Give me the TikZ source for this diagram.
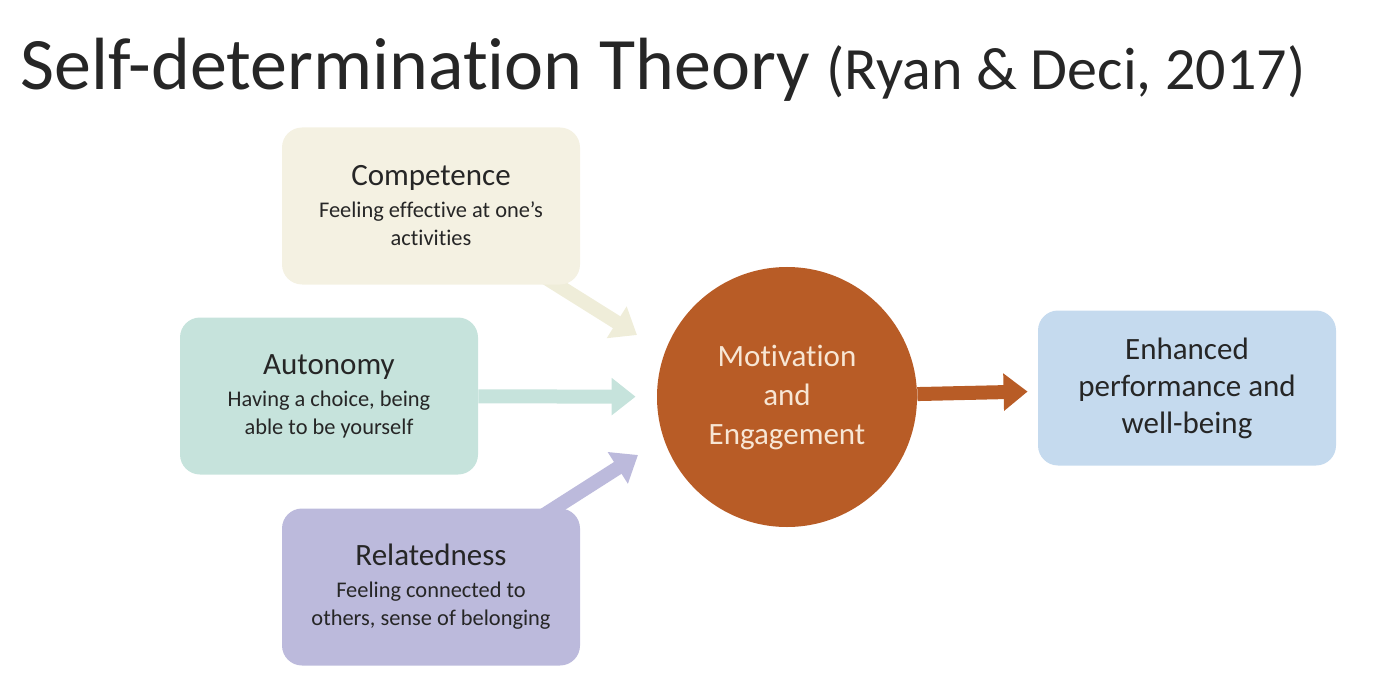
\documentclass[tikz,border=0pt]{standalone}
\usepackage{fontspec}
\setmainfont{Carlito}[Ligatures=NoCommon]
\usetikzlibrary{arrows.meta,backgrounds}

\definecolor{textdark}{HTML}{262626}
\definecolor{compfill}{HTML}{F4F1E2}
\definecolor{comparrow}{HTML}{EFEDD9}
\definecolor{autofill}{HTML}{C6E3DC}
\definecolor{relatfill}{HTML}{BCBADC}
\definecolor{motivfill}{HTML}{B85C26}
\definecolor{motivtext}{HTML}{F7E6D4}
\definecolor{enhfill}{HTML}{C5DAEE}

\tikzset{
	box/.style={rounded corners=10pt, minimum width=149pt, minimum height=78.5pt,
		inner sep=0pt, align=center, text=textdark,
		font=\fontsize{11.2}{14}\selectfont},
	fat/.style={line width=7pt, -{Triangle[length=12pt,width=18pt]}},
}
\newcommand{\boxhead}[1]{{\fontsize{15.5}{16}\selectfont #1}}

\begin{document}
\begin{tikzpicture}[x=0.5pt,y=-0.5pt]
	\useasboundingbox (0,0) rectangle (1386,700);

	\node[anchor=base west, inner sep=0pt, text=textdark, font=\fontsize{37}{42}\selectfont] (title) at (20,90)
		{Self-determination Theory \fontsize{30}{34}\selectfont(Ryan \& Deci, 2017)};

	\node[box, fill=compfill] (comp) at (431,206)
		{\boxhead{Competence}\\[2pt] Feeling effective at one’s\\ activities};
	\node[box, fill=autofill] (auto) at (329,396)
		{\boxhead{Autonomy}\\[2pt] Having a choice, being\\ able to be yourself};
	\node[box, fill=relatfill] (relat) at (431,587)
		{\boxhead{Relatedness}\\[2pt] Feeling connected to\\ others, sense of belonging};
	\node[circle, fill=motivfill, minimum size=130pt, inner sep=0pt, align=center,
		text=motivtext, font=\fontsize{15.5}{19.5}\selectfont] (motiv) at (787,397)
		{Motivation\\ and\\ Engagement};
	\node[box, fill=enhfill, minimum height=77.5pt, font=\fontsize{15.5}{18.5}\selectfont] (enh) at (1187,388)
		{Enhanced\\ performance and\\ well-being};

	\coordinate (ctip) at (637,335);
	\coordinate (rtip) at (638,455);

	\begin{scope}[on background layer]
		\draw[fat, draw=comparrow] (comp.center) -- (ctip);
		\draw[fat, draw=relatfill] (relat.center) -- (rtip);
	\end{scope}

	\draw
		(auto) edge[fat, draw=autofill, shorten >=10.5pt] (motiv)
		(motiv) edge[fat, draw=motivfill, shorten >=5pt] (enh)
	;
\end{tikzpicture}
\end{document}
